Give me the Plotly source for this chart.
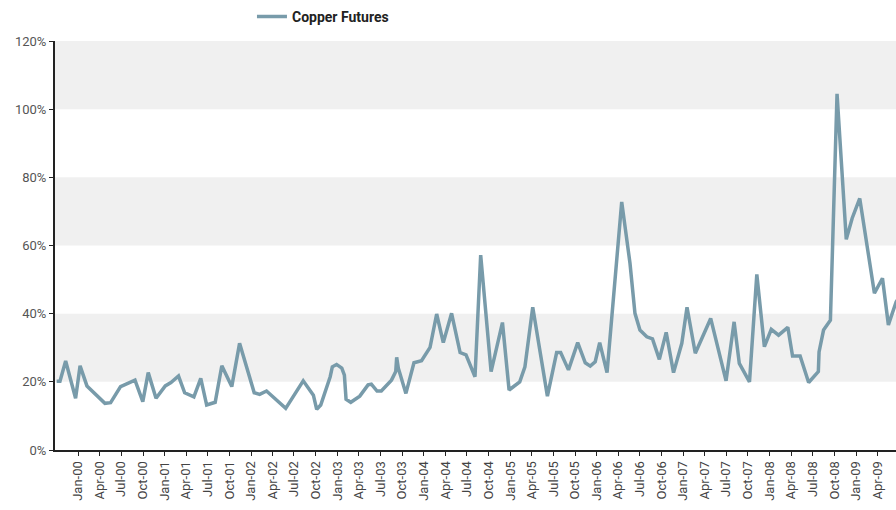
import plotly.graph_objects as go

dates = [
    "1999-10-02", "1999-10-16", "1999-11-09", "1999-12-21", "2000-01-09", "2000-02-07",
    "2000-04-23", "2000-05-17", "2000-06-28", "2000-08-28", "2000-09-30", "2000-10-23",
    "2000-11-25", "2001-01-03", "2001-01-27", "2001-02-28", "2001-03-26", "2001-05-04",
    "2001-06-02", "2001-06-27", "2001-08-02", "2001-08-30", "2001-10-11", "2001-11-13",
    "2002-01-14", "2002-02-06", "2002-03-07", "2002-04-12", "2002-05-27", "2002-08-09",
    "2002-09-21", "2002-10-05", "2002-10-22", "2002-12-01", "2002-12-10", "2002-12-28",
    "2003-01-19", "2003-01-30", "2003-02-06", "2003-02-26", "2003-04-05", "2003-05-10",
    "2003-05-24", "2003-06-17", "2003-07-05", "2003-08-17", "2003-09-04", "2003-09-08",
    "2003-09-15", "2003-10-17", "2003-11-20", "2003-12-22", "2004-01-27", "2004-02-24",
    "2004-03-23", "2004-04-27", "2004-06-02", "2004-06-27", "2004-08-04", "2004-08-28",
    "2004-10-11", "2004-11-28", "2004-12-26", "2005-02-09", "2005-03-03", "2005-04-05",
    "2005-06-06", "2005-07-15", "2005-08-01", "2005-09-03", "2005-10-12", "2005-11-13",
    "2005-12-04", "2005-12-25", "2006-01-13", "2006-02-13", "2006-04-16", "2006-05-21",
    "2006-06-11", "2006-07-02", "2006-07-31", "2006-08-24", "2006-09-22", "2006-10-21",
    "2006-11-21", "2006-12-26", "2007-01-17", "2007-02-21", "2007-04-27", "2007-07-01",
    "2007-08-04", "2007-08-26", "2007-10-08", "2007-11-08", "2007-12-10", "2008-01-08",
    "2008-02-08", "2008-03-18", "2008-04-07", "2008-05-09", "2008-06-14", "2008-07-25",
    "2008-07-28", "2008-08-16", "2008-09-14", "2008-10-12", "2008-11-20", "2008-12-15",
    "2009-01-16", "2009-03-19", "2009-04-22", "2009-05-17", "2009-06-19", "2009-07-15",
]
copper = [
    20.2, 20.2, 26.1, 15.2, 24.7, 18.8,
    13.7, 13.9, 18.6, 20.5, 14.2, 22.7,
    15.2, 18.8, 19.8, 21.7, 16.8, 15.6,
    21.0, 13.2, 14.0, 24.7, 18.6, 31.3,
    16.8, 16.3, 17.3, 14.9, 12.2, 20.3,
    16.1, 11.9, 13.2, 21.5, 24.4, 25.1,
    24.0, 22.0, 14.9, 14.0, 15.8, 19.1,
    19.3, 17.3, 17.3, 20.5, 23.0, 27.2,
    24.0, 16.6, 25.6, 26.2, 30.1, 39.9,
    31.5, 40.1, 28.6, 27.9, 21.5, 57.2,
    23.0, 37.4, 17.6, 20.0, 24.4, 41.9,
    15.8, 28.6, 28.6, 23.5, 31.5, 25.6,
    24.6, 25.9, 31.5, 22.7, 72.8, 54.8,
    40.1, 35.2, 33.2, 32.6, 26.6, 34.5,
    22.7, 31.3, 41.9, 28.4, 38.6, 20.3,
    37.6, 25.4, 20.0, 51.5, 30.3, 35.4,
    33.7, 36.0, 27.6, 27.6, 19.8, 23.0,
    28.8, 35.2, 38.1, 104.5, 61.8, 68.0,
    73.8, 46.0, 50.4, 36.7, 43.5, 46.0,
]
series_name = "Copper Futures"
y_ticks = [0, 20, 40, 60, 80, 100, 120]
y_labels = ["0%", "20%", "40%", "60%", "80%", "100%", "120%"]
x_tick_dates = [f"{y}-{m:02d}-01" for y in range(2000, 2010) for m in (1, 4, 7, 10)]
x_tick_labels = [f"{mon}-{str(y)[2:]}" for y in range(2000, 2010) for mon in ("Jan", "Apr", "Jul", "Oct")]
bands = [(20, 40), (60, 80), (100, 120)]

fig = go.Figure()
fig.add_trace(go.Scatter(
    x=dates, y=copper, mode="lines", name="<b>" + series_name + "</b>",
    line=dict(color="#789BAA", width=3.5),
))

for lo, hi in bands:
    fig.add_shape(type="rect", xref="paper", yref="y", x0=0, x1=1, y0=lo, y1=hi,
                  fillcolor="#F0F0F0", line=dict(width=0), layer="below")

fig.update_layout(
    width=904, height=510,
    margin=dict(l=55, r=0, t=41, b=60, autoexpand=False),
    paper_bgcolor="white", plot_bgcolor="white",
    font=dict(family="Roboto, Arial, sans-serif", size=13, color="#444"),
    showlegend=True,
    legend=dict(orientation="h", x=0.232, xanchor="left", y=1.059, yanchor="middle",
                font=dict(size=14, color="#222", family="Roboto, Arial, sans-serif"),
                bgcolor="rgba(0,0,0,0)"),
    xaxis=dict(
        type="date", range=["1999-09-25", "2009-07-22"],
        tickvals=x_tick_dates, ticktext=x_tick_labels, tickangle=-90,
        showgrid=False, zeroline=False, automargin=False,
        showline=True, linecolor="#222", linewidth=2,
        ticks="outside", ticklen=4, tickcolor="#222",
        tickfont=dict(size=13, color="#444"),
    ),
    yaxis=dict(
        range=[0, 120], tickvals=y_ticks, ticktext=y_labels,
        showgrid=False, zeroline=False, automargin=False,
        showline=True, linecolor="#222", linewidth=2,
        ticks="outside", ticklen=4, tickcolor="#222",
        tickfont=dict(size=13, color="#555"),
    ),
)

fig.write_html(
    "out.html",
    config={"displayModeBar": False},
    post_script="document.body.style.margin='0';document.body.style.overflow='hidden';",
)
